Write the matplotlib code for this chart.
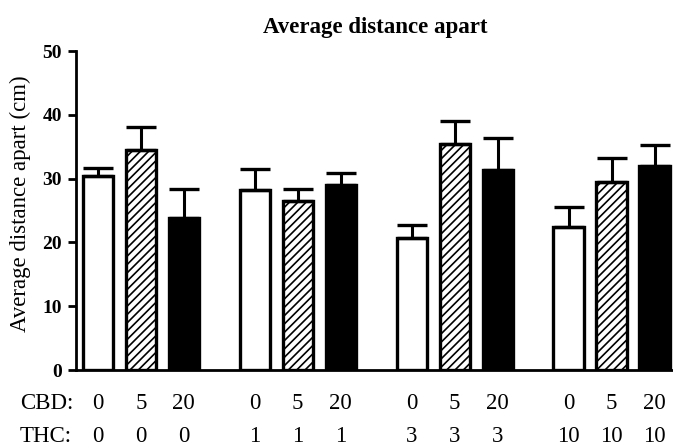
import matplotlib.pyplot as plt
import matplotlib.transforms as mtransforms

# data
cbd_doses = ["0", "5", "20"]
thc_doses = ["0", "1", "3", "10"]
means = [
    [30.4, 34.5, 23.8],
    [28.2, 26.5, 29.0],
    [20.7, 35.5, 31.3],
    [22.4, 29.5, 31.9],
]
sems = [
    [1.2, 3.6, 4.5],
    [3.3, 1.9, 1.8],
    [2.0, 3.5, 5.0],
    [3.1, 3.7, 3.3],
]
yticks = [0, 10, 20, 30, 40, 50]

plt.rcParams["font.family"] = "Liberation Serif"
plt.rcParams["hatch.linewidth"] = 1.2

W, H = 673, 448
fig = plt.figure(figsize=(W / 100, H / 100), dpi=100)
ax = fig.add_axes([76 / W, 78 / H, 1 - 76 / W, (370 - 51) / H])

group_gap = 3.65
width = 0.7
faces = ["white", "white", "black"]
hatches = [None, "////", None]

positions = []
for g, (m, e) in enumerate(zip(means, sems)):
    for i in range(3):
        x = g * group_gap + i
        positions.append((x, cbd_doses[i], thc_doses[g]))
        ax.bar(x, m[i], width=width, color=faces[i], edgecolor="black",
               linewidth=2.4, hatch=hatches[i], zorder=2)
        ax.errorbar(x, m[i], yerr=[[0], [e[i]]], fmt="none", ecolor="black",
                    elinewidth=2.2, capsize=11, capthick=2.4, zorder=3)

ax.set_xlim(-0.507, 13.38)
ax.set_ylim(0, 50)
ax.set_yticks(yticks)
ax.set_yticklabels([str(t) for t in yticks], fontweight="bold", fontsize=14)
ax.set_xticks([])
ax.tick_params(axis="y", direction="out", length=6, width=2, pad=4)
for s in ["top", "right"]:
    ax.spines[s].set_visible(False)
ax.spines["left"].set_linewidth(2)
ax.spines["bottom"].set_linewidth(2)
for sp in ax.spines.values():
    sp.set_clip_on(False)

# dose rows under the axis
trans = mtransforms.blended_transform_factory(ax.transData, fig.transFigure)
for x, c, t in positions:
    ax.text(x, 1 - 403 / H, c, ha="center", va="center", fontsize=16.5,
            transform=trans, clip_on=False)
    ax.text(x, 1 - 436 / H, t, ha="center", va="center", fontsize=16.5,
            transform=trans, clip_on=False)
fig.text(20 / W, 1 - 403 / H, "CBD:", ha="left", va="center", fontsize=16.5)
fig.text(20 / W, 1 - 436 / H, "THC:", ha="left", va="center", fontsize=16.5)

fig.text(20 / W, 1 - 204 / H, "Average distance apart (cm)", rotation=90,
         ha="center", va="center", fontsize=16.5)
fig.text(375 / W, 1 - 27 / H, "Average distance apart", ha="center",
         va="center", fontsize=16.5, fontweight="bold")

fig.savefig("out.png", dpi=100)
